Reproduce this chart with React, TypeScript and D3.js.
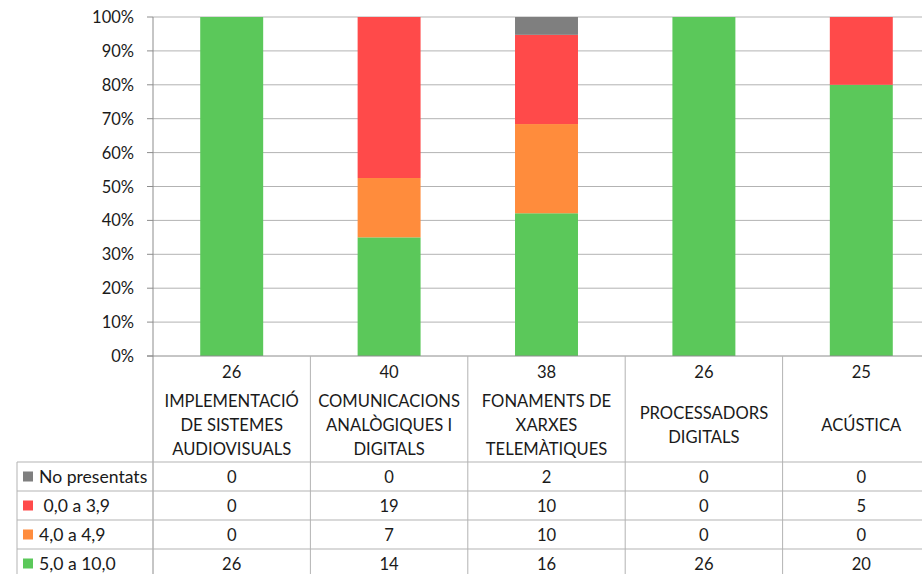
import React from "react";
import * as d3 from "d3";

const categories = [
  "IMPLEMENTACIÓ DE SISTEMES AUDIOVISUALS",
  "COMUNICACIONS ANALÒGIQUES I DIGITALS",
  "FONAMENTS DE XARXES TELEMÀTIQUES",
  "PROCESSADORS DIGITALS",
  "ACÚSTICA",
];
const categoryLines = [
  ["IMPLEMENTACIÓ", "DE SISTEMES", "AUDIOVISUALS"],
  ["COMUNICACIONS", "ANALÒGIQUES I", "DIGITALS"],
  ["FONAMENTS DE", "XARXES", "TELEMÀTIQUES"],
  ["PROCESSADORS", "DIGITALS"],
  ["ACÚSTICA"],
];
const totals = [26, 40, 38, 26, 25];

const seriesNames = ["No presentats", " 0,0 a 3,9", "4,0 a 4,9", "5,0 a 10,0"];
const noPresentats = [0, 0, 2, 0, 0];
const suspens = [0, 19, 10, 0, 5];
const aprovatBaix = [0, 7, 10, 0, 0];
const aprovat = [26, 14, 16, 26, 20];
const seriesColors = ["#7f7f7f", "#ff4a4a", "#ff8c3c", "#5bc85a"];

const yTicks = [0, 0.1, 0.2, 0.3, 0.4, 0.5, 0.6, 0.7, 0.8, 0.9, 1];

const W = 922;
const H = 574;
const FONT = "Lato, 'Open Sans', sans-serif";

export default function App() {
  const left = 153;
  const top = 17;
  const bottom = 356;
  const right = 940;

  const x = d3.scaleBand<string>().domain(categories).range([left, right]).paddingInner(0.6).paddingOuter(0.3);
  const cell = d3.scaleBand<string>().domain(categories).range([left, right]).padding(0);
  const y = d3.scaleLinear().domain([0, 1]).range([bottom, top]);

  const values = [noPresentats, suspens, aprovatBaix, aprovat];
  const table = categories.map((c, i) => ({
    cat: c,
    s0: noPresentats[i],
    s1: suspens[i],
    s2: aprovatBaix[i],
    s3: aprovat[i],
  }));
  const stack = d3
    .stack<any>()
    .keys(["s3", "s2", "s1", "s0"])
    .offset(d3.stackOffsetExpand);
  const stacked = stack(table);
  const keyColor: Record<string, string> = {
    s0: seriesColors[0],
    s1: seriesColors[1],
    s2: seriesColors[2],
    s3: seriesColors[3],
  };

  const rowTops = [462, 491, 520, 549];
  const rowH = 29;
  const gridColor = "#b3b3b3";
  const axisColor = "#8c8c8c";
  const fs = 16.6;
  const txt = "#1a1a1a";

  return (
    <div style={{ position: "absolute", left: 0, top: 0 }}>
      <svg width={W} height={H} style={{ display: "block" }} fontFamily={FONT}>
        <rect width={W} height={H} fill="#fff" />
        {yTicks.map((t) =>
          t > 0 ? (
            <line key={t} x1={left} x2={W} y1={y(t)} y2={y(t)} stroke={gridColor} strokeWidth={1} />
          ) : null
        )}
        {stacked.map((layer) =>
          layer.map((d, i) => {
            const h = y(d[0]) - y(d[1]);
            if (h <= 0.01) return null;
            return (
              <rect
                key={layer.key + i}
                x={x(categories[i])}
                width={x.bandwidth()}
                y={y(d[1])}
                height={h}
                fill={keyColor[layer.key]}
              />
            );
          })
        )}
        <line x1={left} x2={left} y1={top} y2={H} stroke={axisColor} strokeWidth={1} />
        {yTicks.map((t) => (
          <g key={"t" + t}>
            <line x1={left - 6} x2={left} y1={y(t)} y2={y(t)} stroke={axisColor} />
            <text
              x={134}
              y={y(t)}
              textAnchor="end"
              dominantBaseline="central"
              fontSize={16.5}
              fill={txt}
            >
              {Math.round(t * 100) + "%"}
            </text>
          </g>
        ))}
        <line x1={left - 6} x2={W} y1={bottom} y2={bottom} stroke={axisColor} strokeWidth={1} />
        {categories.map((c) => (
          <line
            key={"v" + c}
            x1={(cell(c) as number) + cell.bandwidth()}
            x2={(cell(c) as number) + cell.bandwidth()}
            y1={bottom}
            y2={H}
            stroke={gridColor}
          />
        ))}
        <line x1={17} x2={17} y1={rowTops[0]} y2={H} stroke={gridColor} />
        {rowTops.map((r) => (
          <line key={"h" + r} x1={17} x2={W} y1={r} y2={r} stroke={gridColor} />
        ))}
        {categories.map((c, i) => {
          const cx = (cell(c) as number) + cell.bandwidth() / 2;
          const lines = categoryLines[i];
          const lh = 24;
          const start = 425 - ((lines.length - 1) * lh) / 2;
          return (
            <g key={"hd" + c}>
              <text x={cx} y={372} textAnchor="middle" dominantBaseline="central" fontSize={fs} fill={txt}>
                {totals[i]}
              </text>
              {lines.map((ln, j) => (
                <text
                  key={j}
                  x={cx}
                  y={start + j * lh}
                  textAnchor="middle"
                  dominantBaseline="central"
                  fontSize={fs}
                  fill={txt}
                >
                  {ln}
                </text>
              ))}
            </g>
          );
        })}
        {seriesNames.map((s, r) => {
          const cy = rowTops[r] + rowH / 2;
          return (
            <g key={"row" + s}>
              <rect x={23} y={cy - 5} width={10} height={10} fill={seriesColors[r]} />
              <text
                x={39}
                y={cy}
                dominantBaseline="central"
                fontSize={17.6}
                fill={txt}
                style={{ whiteSpace: "pre" }}
              >
                {s}
              </text>
              {categories.map((c, i) => (
                <text
                  key={c}
                  x={(cell(c) as number) + cell.bandwidth() / 2}
                  y={cy}
                  textAnchor="middle"
                  dominantBaseline="central"
                  fontSize={fs}
                  fill={txt}
                >
                  {values[r][i]}
                </text>
              ))}
            </g>
          );
        })}
      </svg>
    </div>
  );
}
